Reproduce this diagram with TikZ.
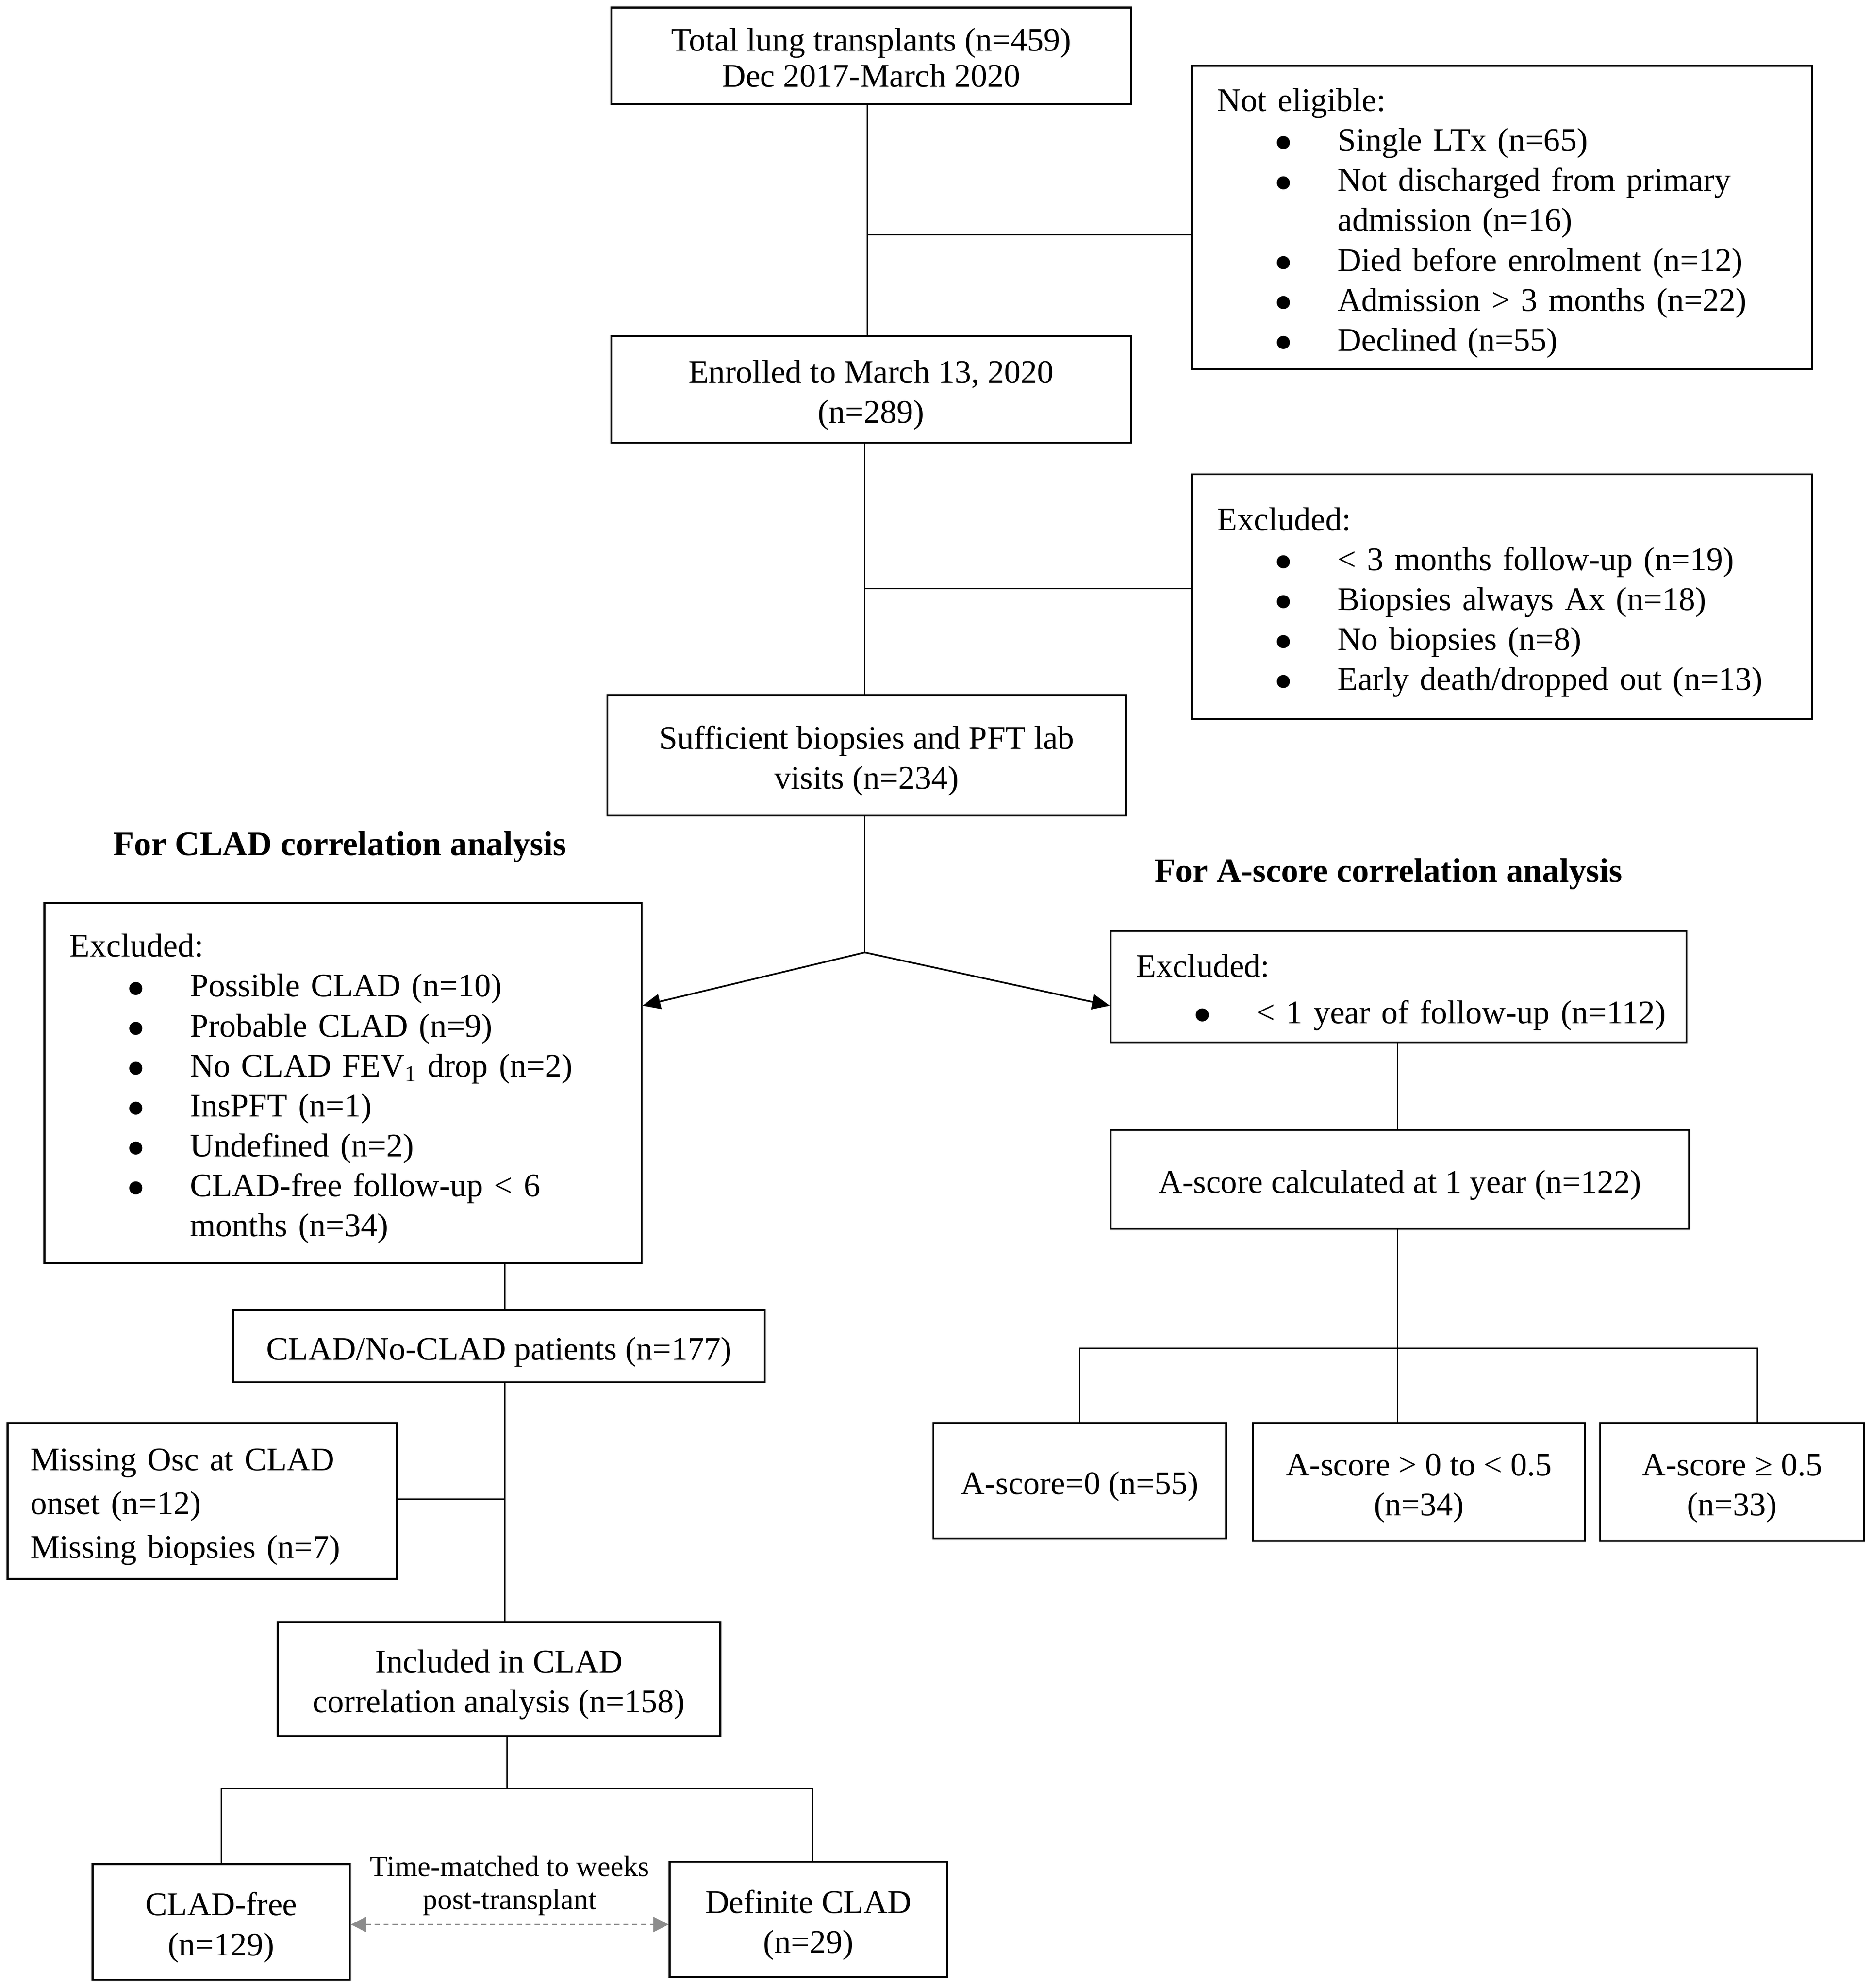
\documentclass[tikz,border=0pt]{standalone}
\usepackage{fontspec}
\setmainfont{Liberation Serif}
\newfontfamily\dejavu{DejaVu Sans}
\usetikzlibrary{arrows.meta,calc}
\newcommand{\boxfont}{\fontsize{26}{31.5}\selectfont}
\newcommand{\titlefont}{\fontsize{27}{31}\selectfont\bfseries}
\newcommand{\tstrut}{\rule{0pt}{27pt}}
\newcommand{\bdot}{\raisebox{3pt}{\dejavu\fontsize{13.5}{13.5}\selectfont ●}}
\newcommand{\bitem}[1]{\hspace*{46.5pt}\makebox[48.5pt][l]{\bdot}\mbox{#1}}
\newcommand{\bcont}[1]{\hspace*{95pt}\mbox{#1}}
\begin{document}
\begin{tikzpicture}[x=1pt,y=-1pt,
  box/.style={draw,line width=1.5pt,inner sep=0pt,align=center,font=\boxfont},
  lbox/.style={draw,line width=1.5pt,inner ysep=0pt,align=left,font=\boxfont},
  conn/.style={line width=1pt},
  arr/.style={line width=1.3pt,-{Triangle[length=14pt,width=12pt]}},
  garr/.style={line width=1pt,color=black!45,dash pattern=on 4pt off 3pt,
    {Triangle[length=12pt,width=12pt]}-{Triangle[length=12pt,width=12pt]}},
  title/.style={font=\titlefont,inner sep=0pt}
]
\useasboundingbox (0,0) rectangle (1476,1567.6);

% main column
\node[box,minimum width=410pt,minimum height=76pt] (total) at (687,44)
  {\rule{0pt}{21pt}Total lung transplants (n=459)\\[-3pt]Dec 2017-March 2020};
\node[lbox,minimum height=239pt,inner xsep=20pt,text width=449pt] (ne) at (1184.5,171.5)
  {\tstrut Not eligible:\\
   \bitem{Single LTx (n=65)}\\
   \bitem{Not discharged from primary}\\
   \bcont{admission (n=16)}\\
   \bitem{Died before enrolment (n=12)}\\
   \bitem{Admission > 3 months (n=22)}\\
   \bitem{Declined (n=55)}};
\node[box,minimum width=410pt,minimum height=84pt] (enr) at (687,307)
  {\tstrut Enrolled to March 13, 2020\\(n=289)};
\node[lbox,minimum height=193pt,inner xsep=20pt,text width=449pt] (exc2) at (1184.5,470.5)
  {\tstrut Excluded:\\
   \bitem{< 3 months follow-up (n=19)}\\
   \bitem{Biopsies always Ax (n=18)}\\
   \bitem{No biopsies (n=8)}\\
   \bitem{Early death/dropped out (n=13)}};
\node[box,minimum width=409pt,minimum height=95pt] (suff) at (683.5,595.5)
  {\tstrut Sufficient biopsies and PFT lab\\visits (n=234)};

% titles
\node[title] (tclad) at (268,668) {For CLAD correlation analysis};
\node[title] (tascore) at (1095,689) {For A-score correlation analysis};

% left branch
\node[lbox,minimum height=284pt,inner xsep=20pt,text width=431pt] (lexc) at (270.5,854)
  {\tstrut Excluded:\\
   \bitem{Possible CLAD (n=10)}\\
   \bitem{Probable CLAD (n=9)}\\
   \bitem{No CLAD FEV\textsubscript{1} drop (n=2)}\\
   \bitem{InsPFT (n=1)}\\
   \bitem{Undefined (n=2)}\\
   \bitem{CLAD-free follow-up < 6}\\
   \bcont{months (n=34)}};
\node[box,minimum width=419pt,minimum height=57pt] (clad) at (393.5,1061.5)
  {\tstrut CLAD/No-CLAD patients (n=177)};
\node[lbox,minimum height=123pt,inner xsep=18pt,text width=271pt] (miss) at (159.5,1183.5)
  {\tstrut Missing Osc at CLAD\\[3pt]onset (n=12)\\[3pt]Missing biopsies (n=7)};
\node[box,minimum width=349pt,minimum height=90pt] (incl) at (393.5,1324)
  {\tstrut Included in CLAD\\correlation analysis (n=158)};
\node[box,minimum width=203pt,minimum height=91pt] (cfree) at (174.5,1515.5)
  {\tstrut CLAD-free\\(n=129)};
\node[box,minimum width=219pt,minimum height=91pt] (dclad) at (637.5,1513.5)
  {\tstrut Definite CLAD\\(n=29)};
\node[font=\fontsize{23}{26}\selectfont,align=center,inner sep=0pt] (tm) at (402,1487)
  {Time-matched to weeks\\post-transplant};

% right branch
\node[lbox,minimum height=88pt,inner xsep=20pt,text width=414pt] (rexc) at (1103,778)
  {\tstrut Excluded:\\[5pt]
   \bitem{< 1 year of follow-up (n=112)}};
\node[box,minimum width=456pt,minimum height=78pt] (ascore) at (1104,930)
  {\tstrut A-score calculated at 1 year (n=122)};
\node[box,minimum width=231pt,minimum height=91pt] (a0) at (851.5,1167.5)
  {\tstrut A-score=0 (n=55)};
\node[box,minimum width=262pt,minimum height=93pt] (amid) at (1119,1168.5)
  {\tstrut A-score > 0 to < 0.5\\(n=34)};
\node[box,minimum width=208pt,minimum height=93pt] (ahigh) at (1366,1168.5)
  {\tstrut A-score ≥ 0.5\\(n=33)};

% connectors main column
\coordinate (mx) at (684,0);
\coordinate (mx2) at (682,0);
\draw[conn] (mx |- total.south) -- (mx |- enr.north);
\coordinate (j1) at (684,185);
\draw[conn] (j1) -- (j1 -| ne.west);
\draw[conn] (mx2 |- enr.south) -- (mx2 |- suff.north);
\coordinate (j2) at (682,464);
\draw[conn] (j2) -- (j2 -| exc2.west);
\coordinate (split) at (682,751);
\draw[conn] (mx2 |- suff.south) -- (split);
\draw[arr] (split) -- ([yshift=61pt]lexc.east);
\draw[arr] (split) -- ([yshift=-15pt]rexc.west);

% right branch connectors
\coordinate (rx) at (1102,0);
\draw[conn] (rx |- rexc.south) -- (rx |- ascore.north);
\draw[conn] (rx |- ascore.south) -- (rx |- amid.north);
\coordinate (j5) at (1102,1063);
\draw[conn] (a0.north) |- (j5) -| ([xshift=20pt]ahigh.north);

% left branch connectors
\coordinate (lx) at (398,0);
\draw[conn] (lx |- lexc.south) -- (lx |- clad.north);
\draw[conn] (lx |- clad.south) -- (lx |- incl.north);
\coordinate (j3) at (398,1182);
\draw[conn] (j3) -- (j3 -| miss.east);
\coordinate (j4) at (400,1410);
\draw[conn] (j4 |- incl.south) -- (j4);
\draw[conn] (cfree.north) |- (j4) -| ([xshift=3.5pt]dclad.north);
\draw[garr] ([yshift=-2pt]cfree.east) -- ([yshift=-2pt]cfree.east -| dclad.west);
\end{tikzpicture}
\end{document}
